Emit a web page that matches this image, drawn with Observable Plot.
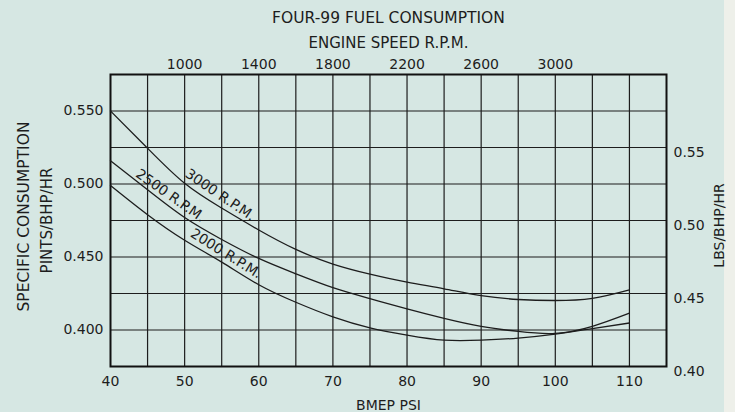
<!DOCTYPE html>
<html><head><meta charset="utf-8">
<script src="https://cdn.jsdelivr.net/npm/d3@7"></script>
<script src="https://cdn.jsdelivr.net/npm/@observablehq/plot@0.6"></script>
<style>
html,body{margin:0;padding:0;background:#eef0ea;}
#chart svg{display:block;}
</style></head><body><div id="chart"></div>
<script>
// BMEP (psi) sample points
const bmep = [40,45,50,55,60,65,70,75,80,85,90,95,100,105,110];
// Specific consumption, pints/BHP/HR
const rpm3000 = [0.550,0.5245,0.5005,0.4835,0.4685,0.4552,0.4452,0.4383,0.4328,0.4282,0.4235,0.4209,0.4202,0.4217,0.4275];
const rpm2500 = [0.516,0.496,0.477,0.462,0.449,0.4385,0.429,0.4215,0.4145,0.408,0.4025,0.399,0.3977,0.4025,0.4115];
const rpm2000 = [0.499,0.479,0.4615,0.4465,0.431,0.419,0.409,0.4015,0.3965,0.393,0.393,0.3945,0.3972,0.401,0.4048];
const seriesNames = ["3000","2500","2000"];
// tick labels
const bmepTicks = [40,50,60,70,80,90,100,110];
const rpmTicks = [1000,1400,1800,2200,2600,3000];
const pintTicks = [0.400,0.450,0.500,0.550];
const lbsTicks = [0.40,0.45,0.50,0.55];
// curve labels (anchored in data units)
const curveLabels = ["3000 R.P.M.","2500 R.P.M.","2000 R.P.M."];
const labelBmep = [54.8, 48.1, 55.6];
const labelValue = [0.4925, 0.4920, 0.4523];
const labelAngle = [34, 35, 32];

const rpmToBmep = r => 50 + (r - 1000) / 40;   // engine speed scale along the top
const lbsOffset = 0.025;                         // lbs scale relative to pints scale

const values = [rpm3000, rpm2500, rpm2000];
const rows = seriesNames.flatMap((s, k) => bmep.map((b, i) => ({series: s, bmep: b, value: values[k][i]})));
const ink = "#1d1d1d";
const ff = "'DejaVu Sans', sans-serif";

const chart = Plot.plot({
  width: 735, height: 412,
  marginLeft: 110, marginRight: 69, marginTop: 74, marginBottom: 46,
  style: {fontFamily: ff, fontSize: "14px", color: ink, background: "linear-gradient(to right, #d6e7e3 724px, #eef0ea 724px)", overflow: "visible"},
  x: {domain: [40, 115]},
  y: {domain: [0.375, 0.575]},
  marks: [
    Plot.gridX(d3.range(45, 115, 5), {stroke: ink, strokeOpacity: 1, strokeWidth: 1.2}),
    Plot.gridY([0.400,0.425,0.450,0.475,0.500,0.525,0.550], {stroke: ink, strokeOpacity: 1, strokeWidth: 1.2}),
    Plot.frame({stroke: "#111", strokeWidth: 2}),
    Plot.line(rows, {x: "bmep", y: "value", z: "series", curve: "natural", stroke: ink, strokeWidth: 1.3}),
    Plot.text(curveLabels, {x: (d, i) => labelBmep[i], y: (d, i) => labelValue[i], rotate: (d, i) => labelAngle[i], text: d => d, fontSize: 14, fill: ink}),
    Plot.axisX(bmepTicks, {anchor: "bottom", tickSize: 0, tickPadding: 10, label: null, fontSize: 14}),
    Plot.axisX(rpmTicks.map(rpmToBmep), {anchor: "top", tickSize: 0, tickPadding: 6, label: null, fontSize: 14,
      tickFormat: d => String(rpmTicks[rpmTicks.map(rpmToBmep).indexOf(d)])}),
    Plot.axisY(pintTicks, {anchor: "left", tickSize: 0, tickPadding: 7, tickFormat: d => d.toFixed(3), label: null, fontSize: 14}),
    Plot.axisY(lbsTicks.map(v => v - lbsOffset), {anchor: "right", tickSize: 0, tickPadding: 7, dy: 5,
      tickFormat: d => (d + lbsOffset).toFixed(2), label: null, fontSize: 14}),
    Plot.text(["FOUR-99 FUEL CONSUMPTION"], {frameAnchor: "top", lineAnchor: "middle", textAnchor: "middle", dy: -56, text: d => d, fontSize: 15.5, fill: ink}),
    Plot.text(["ENGINE SPEED R.P.M."], {frameAnchor: "top", lineAnchor: "middle", textAnchor: "middle", dy: -31, text: d => d, fontSize: 15, fill: ink}),
    Plot.text(["BMEP PSI"], {frameAnchor: "bottom", lineAnchor: "middle", textAnchor: "middle", dy: 39, text: d => d, fontSize: 14, fill: ink}),
    Plot.text(["SPECIFIC CONSUMPTION"], {frameAnchor: "left", lineAnchor: "middle", textAnchor: "middle", dx: -86, dy: -4, rotate: -90, text: d => d, fontSize: 15.5, fill: ink}),
    Plot.text(["PINTS/BHP/HR"], {frameAnchor: "left", lineAnchor: "middle", textAnchor: "middle", dx: -63, dy: 0, rotate: -90, text: d => d, fontSize: 15, fill: ink}),
    Plot.text(["LBS/BHP/HR"], {frameAnchor: "right", lineAnchor: "middle", textAnchor: "middle", dx: 53, dy: 5, rotate: -90, text: d => d, fontSize: 14, fill: ink})
  ]
});
document.getElementById("chart").append(chart);
</script></body></html>
